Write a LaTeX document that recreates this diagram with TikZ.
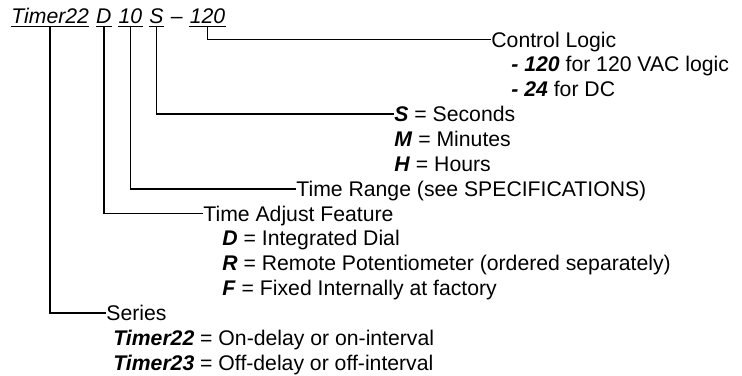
\documentclass[tikz,border=0pt]{standalone}
\usepackage{fontspec}
\setmainfont{Liberation Sans}
\usetikzlibrary{positioning}
\newcommand{\bi}[1]{\textbf{\textit{#1}}}

\begin{document}
\begin{tikzpicture}[x=0.5pt,y=-0.5pt,
  every node/.style={font=\fontsize{10.6pt}{12.5pt}\selectfont, inner sep=0pt,
    text height=7.6pt, text depth=0pt, anchor=west},
  code/.style={font=\fontsize{10.6pt}{12.5pt}\selectfont\itshape, text depth=1.5pt},
  uline/.style={line width=0.8pt},
  link/.style={line width=0.9pt}]
\useasboundingbox (0,0) rectangle (742,375);

% model number
\node[code]                   (ser) at (11,17) {Timer22};
\node[code, right=3.2pt of ser] (adj) {D};
\node[code, right=3.2pt of adj] (rng) {10};
\node[code, right=3.2pt of rng] (unt) {S};
\node[code, right=3.2pt of unt] (dsh) {--};
\node[code, right=3.2pt of dsh] (lgc) {120};

\draw[uline] (ser.south west) -- (ser.south east);
\draw[uline] (adj.south west) -- (adj.south east);
\draw[uline] (rng.south west) -- (rng.south east);
\draw[uline] (unt.south west) -- (unt.south east);
\draw[uline] (lgc.south west) -- (lgc.south east);

% control logic
\node (cl)   at (491,39.5)   {Control Logic};
\node (c120) at (511,64.35)  {\bi{- 120} for 120 VAC logic};
\node (c24)  at (511,89.2)   {\bi{- 24} for DC};
% time units
\node (sec)  at (394,114.05) {\bi{S} = Seconds};
\node (mnt)  at (394,138.9)  {\bi{M} = Minutes};
\node (hrs)  at (394,163.75) {\bi{H} = Hours};
% time range
\node (tr)   at (296,188.6)  {Time Range (see SPECIFICATIONS)};
% time adjust
\node (ta)   at (203,213.45) {Time Adjust Feature};
\node (dd)   at (222,238.3)  {\bi{D} = Integrated Dial};
\node (rr)   at (222,263.15) {\bi{R} = Remote Potentiometer (ordered separately)};
\node (ff)   at (222,288)    {\bi{F} = Fixed Internally at factory};
% series
\node (sr)   at (106,312.85) {Series};
\node (t22)  at (113,337.7)  {\bi{Timer22} = On-delay or on-interval};
\node (t23)  at (113,362.55) {\bi{Timer23} = Off-delay or off-interval};

\draw[link] (lgc) |- (cl);
\draw[link] (unt) |- (sec);
\draw[link] (rng) |- (tr);
\draw[link] (adj) |- (ta);
\draw[link] (ser) |- (sr);
\end{tikzpicture}
\end{document}
